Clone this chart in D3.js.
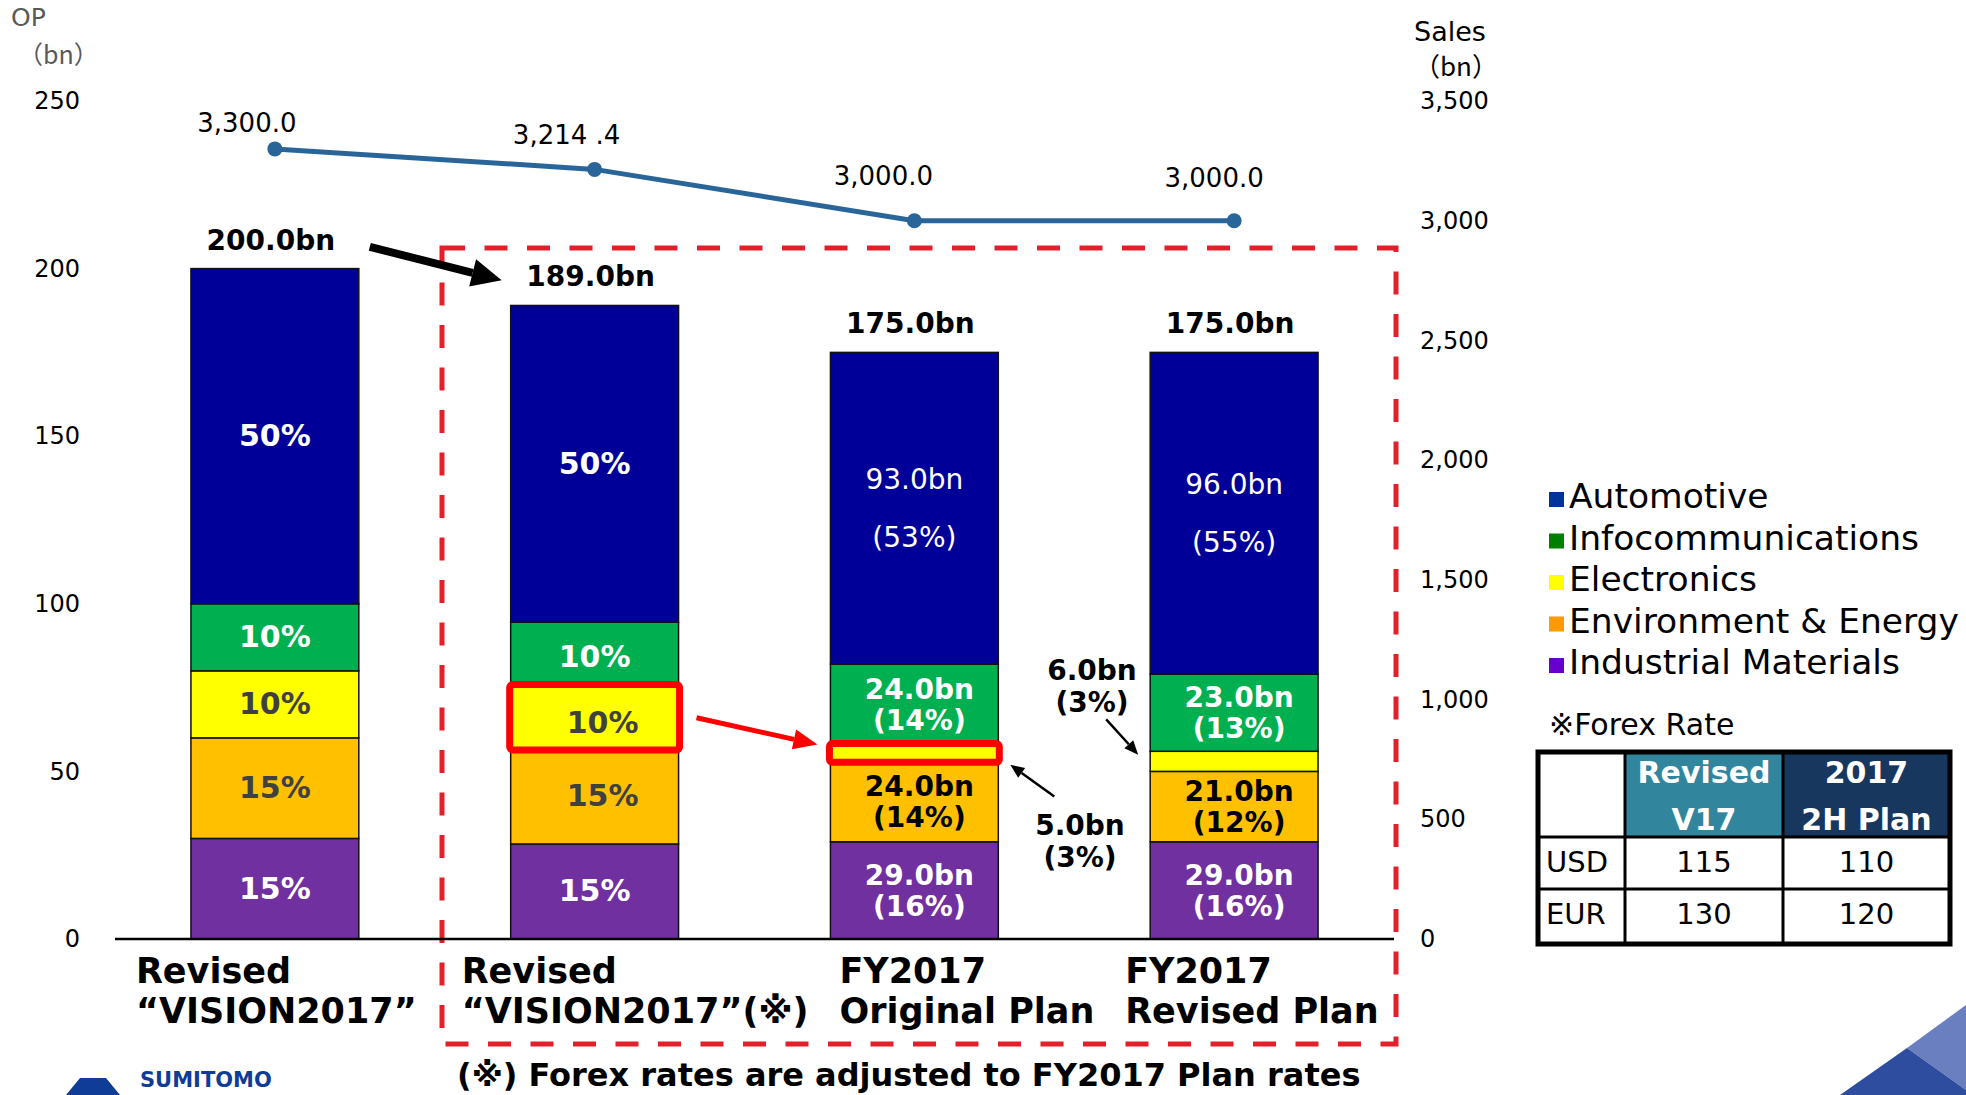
<!DOCTYPE html>
<html>
<head>
<meta charset="utf-8">
<script src="https://cdn.jsdelivr.net/npm/d3@7"></script>
<style>
  body { margin: 0; background: #fff; }
  svg { display: block; font-family: 'DejaVu Sans', Verdana, sans-serif; }
</style>
</head>
<body>
<svg id="chart" width="1966" height="1095"></svg>
<script>
// ---- data ----
const categories = [
  ["Revised", "\u201CVISION2017\u201D"],
  ["Revised", "\u201CVISION2017\u201D(\u203B)"],
  ["FY2017", "Original Plan"],
  ["FY2017", "Revised Plan"]
];
const segmentNames = ["Automotive", "Infocommunications", "Electronics", "Environment & Energy", "Industrial Materials"];
const automotive  = [100, 94.5, 93, 96];
const infocomm    = [20, 18.9, 24, 23];
const electronics = [20, 18.9, 5, 6];
const envEnergy   = [30, 28.35, 24, 21];
const industrial  = [30, 28.35, 29, 29];
const opTotal     = [200, 189, 175, 175];
const totalLabels = ["200.0bn", "189.0bn", "175.0bn", "175.0bn"];
const sales       = [3300, 3214.4, 3000, 3000];
const salesLabels = ["3,300.0", "3,214 .4", "3,000.0", "3,000.0"];
const autoLabels  = [["50%"], ["50%"], ["93.0bn", "(53%)"], ["96.0bn", "(55%)"]];
const infoLabels  = [["10%"], ["10%"], ["24.0bn", "(14%)"], ["23.0bn", "(13%)"]];
const elecLabels  = [["10%"], ["10%"], [], []];
const envLabels   = [["15%"], ["15%"], ["24.0bn", "(14%)"], ["21.0bn", "(12%)"]];
const indLabels   = [["15%"], ["15%"], ["29.0bn", "(16%)"], ["29.0bn", "(16%)"]];
const opTicks     = [0, 50, 100, 150, 200, 250];
const salesTicks  = [0, 500, 1000, 1500, 2000, 2500, 3000, 3500];
const forexHead   = [["Revised", "V17"], ["2017", "2H Plan"]];
const forexUSD    = ["USD", 115, 110];
const forexEUR    = ["EUR", 130, 120];

// ---- setup ----
const svg = d3.select("#chart");
const keys = ["ind", "env", "elec", "info", "auto"];   // bottom to top
const table = categories.map((c, i) => ({
  i: i, auto: automotive[i], info: infocomm[i], elec: electronics[i],
  env: envEnergy[i], ind: industrial[i]
}));
const barColor = { auto: "#000099", info: "#00B050", elec: "#FFFF00", env: "#FFC000", ind: "#7030A0" };
const legendColor = ["#003399", "#008000", "#FFFF00", "#FF9900", "#6600CC"];
const segLabels = { auto: autoLabels, info: infoLabels, elec: elecLabels, env: envLabels, ind: indLabels };

let x = d3.scaleBand()
  .domain(d3.range(categories.length))
  .range([115, 1394])
  .paddingInner(0.475)
  .paddingOuter(0.2375);
let y = d3.scaleLinear().domain([0, 250]).range([939, 101]);
let y2 = d3.scaleLinear().domain([0, 3500]).range([939, 101]);
const bw = x.bandwidth();
const cx = i => x(i) + bw / 2;

// axis titles
svg.append("text").attr("x", 11).attr("y", 26).attr("font-size", 25).attr("fill", "#595959").text("OP");
svg.append("text").attr("x", 18).attr("y", 64).attr("font-size", 25).attr("fill", "#595959")
  .style("font-family", "'Noto Sans CJK JP', sans-serif").text("\uFF08bn\uFF09");
svg.append("text").attr("x", 1414).attr("y", 41).attr("font-size", 27).text("Sales");
svg.append("text").attr("x", 1414).attr("y", 76).attr("font-size", 26)
  .style("font-family", "'Noto Sans CJK JP', sans-serif").text("\uFF08bn\uFF09");

// axes
let leftAxis = svg.append("g").attr("transform", "translate(80,0)")
  .call(d3.axisLeft(y).tickValues(opTicks).tickSize(0).tickPadding(0));
let rightAxis = svg.append("g").attr("transform", "translate(1420,0)")
  .call(d3.axisRight(y2).tickValues(salesTicks).tickSize(0).tickPadding(0).tickFormat(d3.format(",")));
[leftAxis, rightAxis].forEach(a => {
  a.select(".domain").remove();
  a.selectAll("text").attr("font-size", 24).attr("fill", "#000")
    .style("font-family", "'DejaVu Sans', sans-serif");
});

// red dashed box (behind bars)
svg.append("rect")
  .attr("x", 442).attr("y", 248).attr("width", 1396 - 442).attr("height", 1044 - 248)
  .attr("fill", "none").attr("stroke", "#E3202A").attr("stroke-width", 5)
  .attr("stroke-dasharray", "23 19.5");

// stacked bars
const stacked = d3.stack().keys(keys)(table);
let layers = svg.append("g").selectAll("g")
  .data(stacked)
  .join("g")
  .attr("fill", d => barColor[d.key]);
layers.selectAll("rect")
  .data(d => d)
  .join("rect")
  .attr("x", (d, i) => x(i))
  .attr("y", d => y(d[1]))
  .attr("width", bw)
  .attr("height", d => y(d[0]) - y(d[1]))
  .attr("stroke", "#111")
  .attr("stroke-width", 1.5);

// baseline
svg.append("line").attr("x1", 115).attr("x2", 1394).attr("y1", y(0)).attr("y2", y(0))
  .attr("stroke", "#000").attr("stroke-width", 2.5);

// segment labels
stacked.forEach(layer => {
  layer.forEach((d, i) => {
    const lines = segLabels[layer.key][i];
    if (!lines.length) return;
    const mid = (y(d[0]) + y(d[1])) / 2;
    const pct = lines.length === 1;
    const autoBn = layer.key === "auto" && !pct;
    let fill = "#fff";
    if (layer.key === "elec" || layer.key === "env") fill = pct ? "#404040" : "#000";
    const gap = autoBn ? 58 : 31;
    const size = pct ? 30 : 28;
    let nudge = pct ? 0 : 5;
    if (autoBn) nudge = 0;
    if (i === 1 && (layer.key === "elec" || layer.key === "env")) nudge = 8;
    const drop = (i === 1 && layer.key === "elec") ? 6 : (i === 1 && layer.key === "info" ? 3 : 0);
    const t = svg.append("text")
      .attr("text-anchor", "middle")
      .attr("font-size", size)
      .attr("font-weight", autoBn ? "normal" : "bold")
      .attr("fill", fill);
    lines.forEach((s, k) => {
      t.append("tspan")
        .attr("x", cx(i) + nudge)
        .attr("y", mid + 10 + drop + (k - (lines.length - 1) / 2) * gap)
        .text(s);
    });
  });
});

// total labels
svg.append("g").selectAll("text")
  .data(opTotal)
  .join("text")
  .attr("x", (d, i) => cx(i) - 4)
  .attr("y", d => y(d) - 19)
  .attr("text-anchor", "middle")
  .attr("font-size", 28)
  .attr("font-weight", "bold")
  .text((d, i) => totalLabels[i]);

// sales line
const line = d3.line().x((d, i) => cx(i)).y(d => y2(d));
svg.append("path").datum(sales)
  .attr("d", line).attr("fill", "none")
  .attr("stroke", "#2A6599").attr("stroke-width", 5);
svg.append("g").selectAll("circle")
  .data(sales)
  .join("circle")
  .attr("cx", (d, i) => cx(i)).attr("cy", d => y2(d)).attr("r", 7.5)
  .attr("fill", "#2A6599");
const salesNudge = [[-28, -17], [-28, -25], [-31, -36], [-20, -34]];
svg.append("g").selectAll("text")
  .data(sales)
  .join("text")
  .attr("x", (d, i) => cx(i) + salesNudge[i][0])
  .attr("y", (d, i) => y2(d) + salesNudge[i][1])
  .attr("text-anchor", "middle")
  .attr("font-size", 26)
  .text((d, i) => salesLabels[i]);

// highlight boxes on electronics (bars 2 and 3)
const elecLayer = stacked.find(s => s.key === "elec");
[1, 2].forEach(i => {
  const d = elecLayer[i];
  svg.append("rect")
    .attr("x", x(i) - 1).attr("y", y(d[1]) - 1)
    .attr("width", bw + 2).attr("height", y(d[0]) - y(d[1]) + 2)
    .attr("rx", 3)
    .attr("fill", "none").attr("stroke", "#FF0000").attr("stroke-width", 7);
});

// arrows
function arrow(x1, y1, x2, y2_, w, hl, hw, color) {
  const a = Math.atan2(y2_ - y1, x2 - x1);
  const bx = x2 - hl * Math.cos(a), by = y2_ - hl * Math.sin(a);
  svg.append("line").attr("x1", x1).attr("y1", y1).attr("x2", bx).attr("y2", by)
    .attr("stroke", color).attr("stroke-width", w);
  const px = -Math.sin(a) * hw / 2, py = Math.cos(a) * hw / 2;
  svg.append("polygon")
    .attr("points", [[x2, y2_], [bx + px, by + py], [bx - px, by - py]].map(p => p.join(",")).join(" "))
    .attr("fill", color);
}
arrow(x(0) + bw + 11, y(206.5), x(1) - 9, y(196.5), 8, 30, 28, "#000");
arrow(x(1) + bw + 18, y(66), x(2) - 13, y(58), 5, 24, 20, "#FF0000");
arrow(x(2) + bw + 56, y(42.5), x(2) + bw + 12, y(52), 2.5, 14, 12, "#000");
arrow(x(3) - 44, y(65.5), x(3) - 12, y(55), 2.5, 14, 12, "#000");

// outside labels for small electronics segments
[["6.0bn", "(3%)", 1092, 680], ["5.0bn", "(3%)", 1080, 835]].forEach(l => {
  const t = svg.append("text").attr("text-anchor", "middle")
    .attr("font-size", 28).attr("font-weight", "bold");
  t.append("tspan").attr("x", l[2]).attr("y", l[3]).text(l[0]);
  t.append("tspan").attr("x", l[2]).attr("y", l[3] + 32).text(l[1]);
});

// category labels (left-aligned blocks)
const catShift = [-139, -133, -75, -109];
categories.forEach((c, i) => {
  const t = svg.append("text").attr("font-size", 35).attr("font-weight", "bold");
  c.forEach((s, k) => {
    t.append("tspan").attr("x", cx(i) + catShift[i]).attr("y", 983 + k * 40).text(s);
  });
});

// footnote
svg.append("text").attr("x", 457).attr("y", 1086)
  .attr("font-size", 32).attr("font-weight", "bold")
  .text("(\u203B) Forex rates are adjusted to FY2017 Plan rates");

// legend
const legend = svg.append("g").selectAll("g")
  .data(segmentNames)
  .join("g")
  .attr("transform", (d, i) => `translate(1549, ${508 + i * 41.5})`);
legend.append("rect").attr("x", 0).attr("y", -16).attr("width", 15).attr("height", 15)
  .attr("fill", (d, i) => legendColor[i]);
legend.append("text").attr("x", 20).attr("y", 0).attr("font-size", 34.5).text(d => d);

// forex table
svg.append("text").attr("x", 1549).attr("y", 735).attr("font-size", 30).text("\u203BForex Rate");
const colX = [1538, 1625, 1783, 1950];
const rowY = [752, 837, 889, 944];
const ft = svg.append("g");
ft.append("rect").attr("x", colX[1]).attr("y", rowY[0]).attr("width", colX[2] - colX[1]).attr("height", rowY[1] - rowY[0]).attr("fill", "#31859C");
ft.append("rect").attr("x", colX[2]).attr("y", rowY[0]).attr("width", colX[3] - colX[2]).attr("height", rowY[1] - rowY[0]).attr("fill", "#17375E");
forexHead.forEach((h, j) => {
  const mx = (colX[j + 1] + colX[j + 2]) / 2;
  h.forEach((s, k) => {
    ft.append("text").attr("x", mx).attr("y", 783 + k * 47).attr("text-anchor", "middle")
      .attr("font-size", 30).attr("font-weight", "bold").attr("fill", "#fff").text(s);
  });
});
[forexUSD, forexEUR].forEach((r, k) => {
  const by = rowY[k + 1] + 35;
  ft.append("text").attr("x", 1546).attr("y", by).attr("font-size", 29).text(r[0]);
  [1, 2].forEach(j => {
    ft.append("text").attr("x", (colX[j] + colX[j + 1]) / 2).attr("y", by)
      .attr("text-anchor", "middle").attr("font-size", 29).text(r[j]);
  });
});
[1, 2].forEach(j => ft.append("line").attr("x1", colX[j]).attr("x2", colX[j]).attr("y1", rowY[0]).attr("y2", rowY[3]).attr("stroke", "#000").attr("stroke-width", 3));
[1, 2].forEach(k => ft.append("line").attr("x1", colX[0]).attr("x2", colX[3]).attr("y1", rowY[k]).attr("y2", rowY[k]).attr("stroke", "#000").attr("stroke-width", 3));
ft.append("rect").attr("x", colX[0]).attr("y", rowY[0]).attr("width", colX[3] - colX[0]).attr("height", rowY[3] - rowY[0])
  .attr("fill", "none").attr("stroke", "#000").attr("stroke-width", 5);

// footer decorations
svg.append("path").attr("d", "M80,1078 L106,1078 L120,1095 L66,1095 Z").attr("fill", "#0F3C96");
svg.append("text").attr("x", 140).attr("y", 1087).attr("font-size", 21).attr("font-weight", "bold")
  .attr("fill", "#0F3C96").text("SUMITOMO");
svg.append("polygon").attr("points", "1907,1048 1966,1005 1966,1090").attr("fill", "#6A7FBF");
svg.append("polygon").attr("points", "1840,1095 1907,1048 1966,1090 1966,1095").attr("fill", "#2F4D9E");
</script>
</body>
</html>
